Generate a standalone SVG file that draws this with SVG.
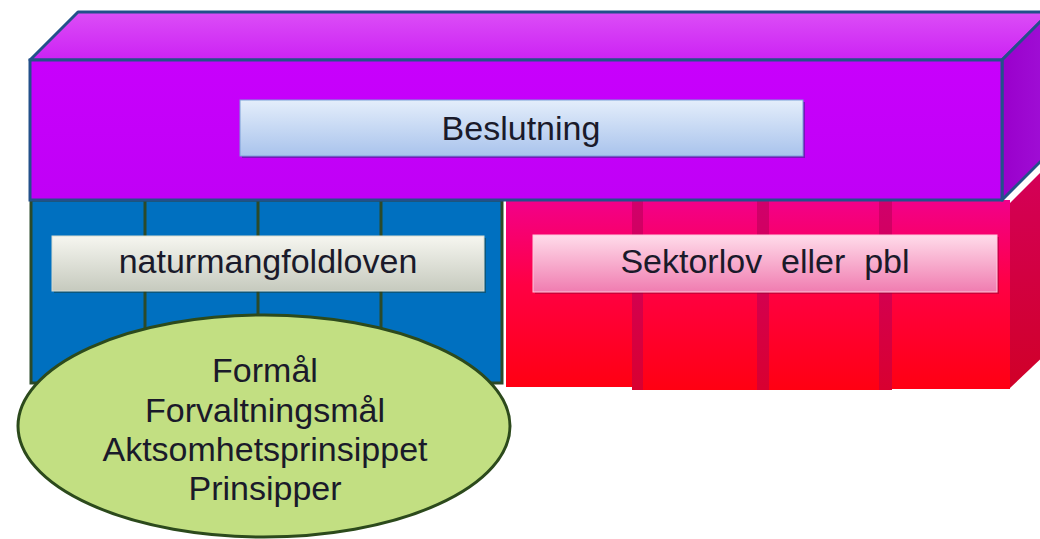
<svg xmlns="http://www.w3.org/2000/svg" width="1040" height="539" viewBox="0 0 1040 539">
  <defs>
    <linearGradient id="gTop" x1="0" y1="0" x2="0" y2="1">
      <stop offset="0" stop-color="#dc4ef6"/>
      <stop offset="1" stop-color="#cc22f4"/>
    </linearGradient>
    <linearGradient id="gFront" x1="0" y1="0" x2="0" y2="1">
      <stop offset="0" stop-color="#c800fc"/>
      <stop offset="1" stop-color="#c000f6"/>
    </linearGradient>
    <linearGradient id="gSide" x1="0" y1="0" x2="1" y2="0">
      <stop offset="0" stop-color="#9a00cc"/>
      <stop offset="1" stop-color="#a010d6"/>
    </linearGradient>
    <linearGradient id="gCol" x1="0" y1="0" x2="0" y2="1">
      <stop offset="0" stop-color="#f2008a"/>
      <stop offset="0.45" stop-color="#ff0044"/>
      <stop offset="1" stop-color="#ff0012"/>
    </linearGradient>
    <linearGradient id="gShade" x1="0" y1="0" x2="0" y2="1">
      <stop offset="0" stop-color="#d0006c"/>
      <stop offset="1" stop-color="#d80030"/>
    </linearGradient>
    <linearGradient id="gRedSide" x1="0" y1="0" x2="0" y2="1">
      <stop offset="0" stop-color="#d4005a"/>
      <stop offset="1" stop-color="#d00028"/>
    </linearGradient>
    <linearGradient id="gBes" x1="0" y1="0" x2="0" y2="1">
      <stop offset="0" stop-color="#e4eefb"/>
      <stop offset="1" stop-color="#a9c3ec"/>
    </linearGradient>
    <linearGradient id="gNat" x1="0" y1="0" x2="0" y2="1">
      <stop offset="0" stop-color="#f6f6f0"/>
      <stop offset="1" stop-color="#c6cabe"/>
    </linearGradient>
    <linearGradient id="gSek" x1="0" y1="0" x2="0" y2="1">
      <stop offset="0" stop-color="#ffdcea"/>
      <stop offset="1" stop-color="#f07cb0"/>
    </linearGradient>
  </defs>
  <style>
    .lbl { font-family: "Liberation Sans", Arial, sans-serif; font-size: 34px; fill: #1a1a2a; text-anchor: middle; }
    .div { stroke: #2b4a2a; stroke-width: 3; }
    .col { fill: url(#gCol); }
    .shade { fill: url(#gShade); }
  </style>

  <!-- red sector block (behind) -->
  <g id="sektor-block">
    <polygon points="1010,203 1050,163 1050,350 1010,388" fill="url(#gRedSide)"/>
    <rect class="shade" x="632" y="200" width="11" height="190"/>
    <rect class="shade" x="757" y="200" width="12" height="190"/>
    <rect class="shade" x="879" y="200" width="13" height="190"/>
    <rect class="col" x="506" y="200" width="126" height="187"/>
    <rect class="col" x="643" y="200" width="114" height="190"/>
    <rect class="col" x="769" y="200" width="110" height="190"/>
    <rect class="col" x="892" y="200" width="118" height="189"/>
  </g>

  <!-- blue nature block -->
  <g id="natur-block">
    <rect x="31" y="200" width="471" height="183" fill="#0070c0" stroke="#2b4a2a" stroke-width="3"/>
    <line class="div" x1="145" y1="200" x2="145" y2="383"/>
    <line class="div" x1="258" y1="200" x2="258" y2="383"/>
    <line class="div" x1="381" y1="200" x2="381" y2="383" stroke-width="4"/>
  </g>

  <!-- purple decision prism -->
  <g id="beslutning-block">
    <polygon points="30,60 78,12 1050,12 1002,60" fill="url(#gTop)" stroke="#23508a" stroke-width="3" stroke-linejoin="round"/>
    <polygon points="1002,60 1050,12 1050,152 1002,200" fill="url(#gSide)" stroke="#23508a" stroke-width="3" stroke-linejoin="round"/>
    <rect x="30" y="60" width="972" height="140" fill="url(#gFront)" stroke="#23508a" stroke-width="3"/>
  </g>

  <!-- label boxes -->
  <g id="beslutning">
    <rect x="242" y="102" width="563" height="56" fill="#2a2a7a" opacity="0.5"/>
    <rect x="240" y="100" width="563" height="56" fill="url(#gBes)" stroke="#7aa0d8" stroke-width="1"/>
    <text class="lbl" x="521" y="140">Beslutning</text>
  </g>

  <g id="naturmangfoldloven">
    <rect x="54" y="238" width="432" height="55" fill="#1a3a2a" opacity="0.45"/>
    <rect x="52" y="236" width="432" height="55" fill="url(#gNat)" stroke="#d8dcd0" stroke-width="1"/>
    <text class="lbl" x="268" y="273">naturmangfoldloven</text>
  </g>

  <g id="sektorlov">
    <rect x="535" y="237" width="464" height="57" fill="#900030" opacity="0.45"/>
    <rect x="533" y="235" width="464" height="57" fill="url(#gSek)" stroke="#ffc8dc" stroke-width="1"/>
    <text class="lbl" x="765" y="273" xml:space="preserve">Sektorlov  eller  pbl</text>
  </g>

  <!-- green ellipse -->
  <g id="prinsipper">
    <ellipse cx="264" cy="426" rx="246" ry="111" fill="#c2df82" stroke="#2c4a1c" stroke-width="3"/>
    <text class="lbl" x="265" y="382">Formål</text>
    <text class="lbl" x="265" y="422">Forvaltningsmål</text>
    <text class="lbl" x="265" y="461">Aktsomhetsprinsippet</text>
    <text class="lbl" x="265" y="500">Prinsipper</text>
  </g>

  <g id="connectors"/>
</svg>
